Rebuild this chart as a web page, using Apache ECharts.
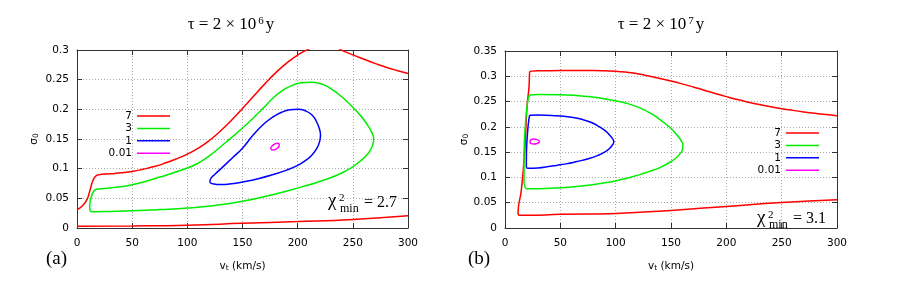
<!DOCTYPE html>
<html><head><meta charset="utf-8">
<script src="https://cdn.jsdelivr.net/npm/echarts@6/dist/echarts.min.js"></script>
<style>html,body{margin:0;padding:0;background:#fff}#c{width:913px;height:290px}</style>
</head><body><div id="c"></div>
<script>
// ---------- data ----------
const levelNames = ['7', '3', '1', '0.01'];
const xTickLabels = ['0', '50', '100', '150', '200', '250', '300'];
const yTickLabelsA = ['0', '0.05', '0.1', '0.15', '0.2', '0.25', '0.3'];
const yTickLabelsB = ['0', '0.05', '0.1', '0.15', '0.2', '0.25', '0.3', '0.35'];
const titleA = 'τ = 2 × 10';
const titleExpA = '6';
const titleB = 'τ = 2 × 10';
const titleExpB = '7';
const chiMinA = '2.7';
const chiMinB = '3.1';

// panel (a): tau = 2e6 y   [v_t (km/s), sigma_0]
const redA_upper = [[0,0.0308],[4.5,0.0365],[9,0.0477],[11.5,0.062],[13.6,0.0757],[15.5,0.084],[17,0.0875],[19.6,0.0897],[30,0.0914],[40,0.093],[50,0.0953],[60,0.099],[70,0.1035],[80,0.1095],[90,0.1165],[100,0.1245],[110,0.1345],[120,0.1475],[130,0.1635],[140,0.1815],[150,0.2015],[160,0.222],[170,0.2425],[180,0.2615],[190,0.278],[200,0.2915],[210,0.3015],[220,0.3075],[230,0.3075],[240,0.2995],[250,0.2917],[260,0.2845],[270,0.2775],[280,0.271],[290,0.2655],[300,0.2605]];
const redA_lower = [[0,0.003],[50,0.0035],[100,0.0048],[150,0.0078],[200,0.0108],[250,0.0145],[300,0.0205]];
const greenA = [[12.1,0.028],[11.5,0.0365],[12.7,0.0505],[14.5,0.06],[16.6,0.0645],[20,0.0658],[30,0.0675],[50,0.0729],[75,0.0858],[100,0.101],[110,0.1095],[120,0.1215],[135,0.1445],[150,0.1685],[162,0.1895],[170,0.2045],[178,0.2195],[186,0.2315],[194,0.2395],[202,0.2443],[212,0.2458],[220,0.2437],[228,0.2375],[241,0.2195],[256,0.1915],[263,0.1745],[267,0.1615],[268.9,0.150],[267.8,0.139],[264,0.126],[256,0.1115],[241,0.0935],[220,0.0785],[202,0.0685],[178,0.0565],[150,0.0449],[125,0.038],[100,0.0336],[75,0.031],[50,0.029],[30,0.028],[16.6,0.0275],[12.1,0.028]];
const blueA = [[120.4,0.0785],[121.5,0.084],[125,0.0905],[132.5,0.1035],[141,0.1185],[150,0.1345],[160,0.1575],[170,0.1765],[177.8,0.1875],[186,0.1955],[193,0.1992],[200.4,0.2002],[207,0.1975],[213,0.1905],[217,0.1795],[219.8,0.1665],[220.7,0.157],[220,0.1465],[217.5,0.1345],[213,0.123],[207,0.1135],[200,0.1055],[190,0.0975],[178,0.0902],[165,0.0835],[150,0.0775],[140,0.0745],[130,0.0733],[124,0.0742],[121,0.0762],[120.4,0.0785]];
const magentaA = [[175.5,0.133],[176.5,0.1375],[179,0.1415],[182,0.143],[183.3,0.1405],[182.5,0.136],[180,0.1325],[177,0.1315],[175.5,0.133]];

// panel (b): tau = 2e7 y
const redB = [[300,0.222],[290,0.2242],[280,0.2267],[270,0.2295],[260,0.2326],[250,0.236],[240,0.2398],[230,0.244],[220,0.2488],[210,0.254],[200,0.2598],[190,0.266],[180,0.2725],[170,0.279],[160,0.285],[150,0.2905],[140,0.2955],[130,0.3005],[120,0.305],[110,0.308],[100,0.31],[90,0.3108],[80,0.3112],[50,0.3112],[30,0.311],[24,0.3102],[22.3,0.3085],[21.7,0.279],[19.9,0.24],[17.8,0.154],[14.8,0.0755],[11.8,0.03],[12.2,0.0262],[14,0.025],[20,0.025],[50,0.027],[100,0.0288],[150,0.0348],[200,0.0427],[250,0.0506],[300,0.0558]];
const greenB = [[22,0.2627],[25,0.2635],[30,0.264],[50,0.2635],[75,0.2598],[100,0.2515],[110,0.2465],[121.8,0.2375],[131,0.2275],[140,0.2145],[147,0.2025],[152,0.1925],[156.5,0.181],[159.5,0.1715],[160.8,0.164],[160.5,0.156],[158.5,0.1475],[154,0.1375],[147,0.1275],[140,0.1195],[130,0.1115],[121.8,0.1055],[110,0.0985],[100.7,0.0935],[88,0.0885],[75,0.0845],[60,0.081],[46.5,0.079],[30,0.0778],[20,0.0778],[18.7,0.0788],[17.6,0.085],[17.2,0.0906],[17.2,0.141],[18.7,0.213],[20.5,0.25],[22,0.2627]];
const blueB = [[22.3,0.223],[30,0.2232],[46.5,0.2218],[60,0.2192],[70,0.2145],[78,0.2085],[85,0.2005],[91,0.1915],[95.5,0.1815],[97.8,0.1745],[98.3,0.1707],[97.8,0.1665],[95,0.1585],[90.4,0.1505],[84,0.1435],[75.4,0.137],[65,0.1315],[55,0.1268],[46.5,0.1238],[38,0.121],[30,0.1188],[22,0.118],[20.8,0.118],[19.3,0.1205],[19.4,0.15],[19.9,0.174],[20.8,0.2],[21.6,0.215],[22.3,0.223]];
const magentaB = [[22.5,0.1705],[23.5,0.1745],[26,0.1758],[29,0.1748],[31.2,0.171],[29,0.1672],[26,0.1662],[23.5,0.1668],[22.5,0.1705]];

// ---------- styling ----------
const SANS = 'DejaVu Sans';
const SERIF = 'Liberation Serif';
const COLORS = {'7': '#ff0000', '3': '#00ee00', '1': '#0000ff', '0.01': '#ff00ff'};
const FRAME = '#333333';

const chart = echarts.init(document.getElementById('c'), null, {renderer: 'canvas'});

function nameRich() {
  return {
    v: {fontFamily: SANS, fontSize: 10.5, color: '#000', lineHeight: 16, verticalAlign: 'bottom'},
    s: {fontFamily: SANS, fontSize: 7.5, color: '#000', lineHeight: 8, verticalAlign: 'bottom'}
  };
}

function mainX(gi) {
  return {
    gridIndex: gi, type: 'value', position: 'bottom', min: 0, max: 300, interval: 50,
    axisLine: {show: true, onZero: false, lineStyle: {color: FRAME, width: 1}},
    axisTick: {show: true, inside: true, length: 5, lineStyle: {color: FRAME}},
    axisLabel: {show: true, margin: 10, color: '#000', fontFamily: SANS, fontSize: 10.5,
      formatter: (v, i) => xTickLabels[i]},
    splitLine: {show: true, showMinLine: false, showMaxLine: false, lineStyle: {color: '#aaaaaa', type: [1, 2], width: 1}},
    name: '{v|v}{s|t}{v| (km/s)}', nameLocation: 'middle', nameGap: 28,
    nameTextStyle: {rich: nameRich()}
  };
}
function mirrorX(gi) {
  return {
    gridIndex: gi, type: 'value', position: 'top', min: 0, max: 300, interval: 50,
    axisLine: {show: true, onZero: false, lineStyle: {color: FRAME, width: 1}},
    axisTick: {show: true, inside: true, length: 5, lineStyle: {color: FRAME}},
    axisLabel: {show: false}, splitLine: {show: false}
  };
}
function mainY(gi, maxV, labels, gap) {
  return {
    gridIndex: gi, type: 'value', position: 'left', min: 0, max: maxV, interval: 0.05,
    axisLine: {show: true, onZero: false, lineStyle: {color: FRAME, width: 1}},
    axisTick: {show: true, inside: true, length: 5, lineStyle: {color: FRAME}},
    axisLabel: {show: true, margin: 8, color: '#000', fontFamily: SANS, fontSize: 10.5,
      formatter: (v, i) => labels[i]},
    splitLine: {show: true, showMinLine: false, showMaxLine: false, lineStyle: {color: '#aaaaaa', type: [1, 2], width: 1}},
    name: '{v|σ}{s|0}', nameLocation: 'middle', nameGap: gap,
    nameTextStyle: {rich: nameRich()}
  };
}
function mirrorY(gi, maxV) {
  return {
    gridIndex: gi, type: 'value', position: 'right', min: 0, max: maxV, interval: 0.05,
    axisLine: {show: true, onZero: false, lineStyle: {color: FRAME, width: 1}},
    axisTick: {show: true, inside: true, length: 5, lineStyle: {color: FRAME}},
    axisLabel: {show: false}, splitLine: {show: false}
  };
}

function lineSeries(name, data, axisIdx) {
  return {
    type: 'line', name: name, data: data, xAxisIndex: axisIdx, yAxisIndex: axisIdx,
    showSymbol: false, symbol: 'none', smooth: 0.5, clip: true, silent: true,
    lineStyle: {color: COLORS[name], width: 1.5}, itemStyle: {color: COLORS[name]},
    z: 3
  };
}

function legendAt(right, top) {
  return {
    data: levelNames, orient: 'vertical', right: right, top: top, align: 'right',
    icon: 'rect', itemWidth: 33, itemHeight: 1.5, itemGap: 0.4, padding: 0,
    selectedMode: false,
    textStyle: {fontFamily: SANS, fontSize: 10.5, color: '#000', lineHeight: 12}
  };
}

function titleText(x, base, exp) {
  return {
    type: 'text', x: x, y: 27,
    style: {
      text: '{m|' + base + '}{p|' + exp + '}{m|y}',
      align: 'center', textAlign: 'center', verticalAlign: 'middle', textVerticalAlign: 'middle',
      rich: {
        m: {fontFamily: SERIF, fontSize: 17, lineHeight: 22, verticalAlign: 'top', fill: '#000', color: '#000'},
        p: {fontFamily: SERIF, fontSize: 11, lineHeight: 14, verticalAlign: 'top', fill: '#000', color: '#000', padding: [0, 2, 0, 2]}
      }
    }
  };
}
function plainText(x, y, txt, size, family) {
  return {
    type: 'text', x: x, y: y,
    style: {text: txt, fontFamily: family || SERIF, fontSize: size, fill: '#000',
      align: 'left', textAlign: 'left', verticalAlign: 'middle', textVerticalAlign: 'middle'}
  };
}
function chiLabel(x, base, value) {
  return [
    plainText(x, base - 6, 'χ', 19),
    plainText(x + 11, base - 9, '2', 11),
    plainText(x + 12, base + 1, 'min', 12),
    plainText(x + 36, base - 5, '= ' + value, 16)
  ];
}

const option = {
  animation: false,
  backgroundColor: '#ffffff',
  grid: [
    {left: 77, top: 50, width: 331, height: 178, containLabel: false},
    {left: 505, top: 51, width: 332, height: 177, containLabel: false}
  ],
  xAxis: [mainX(0), mirrorX(0), mainX(1), mirrorX(1)],
  yAxis: [mainY(0, 0.3, yTickLabelsA, 37), mirrorY(0, 0.3), mainY(1, 0.35, yTickLabelsB, 35), mirrorY(1, 0.35)],
  legend: [legendAt(743, 110), legendAt(94, 127)],
  series: [
    lineSeries('7', redA_upper, 0),
    lineSeries('7', redA_lower, 0),
    lineSeries('3', greenA, 0),
    lineSeries('1', blueA, 0),
    lineSeries('0.01', magentaA, 0),
    lineSeries('7', redB, 2),
    lineSeries('3', greenB, 2),
    lineSeries('1', blueB, 2),
    lineSeries('0.01', magentaB, 2)
  ],
  graphic: [
    titleText(231, titleA, titleExpA),
    titleText(661, titleB, titleExpB),
    plainText(46, 259, '(a)', 19),
    plainText(468, 259, '(b)', 19)
  ].concat(chiLabel(328, 207.5, chiMinA)).concat(chiLabel(757, 224, chiMinB))
};
chart.setOption(option);
</script>
</body></html>
